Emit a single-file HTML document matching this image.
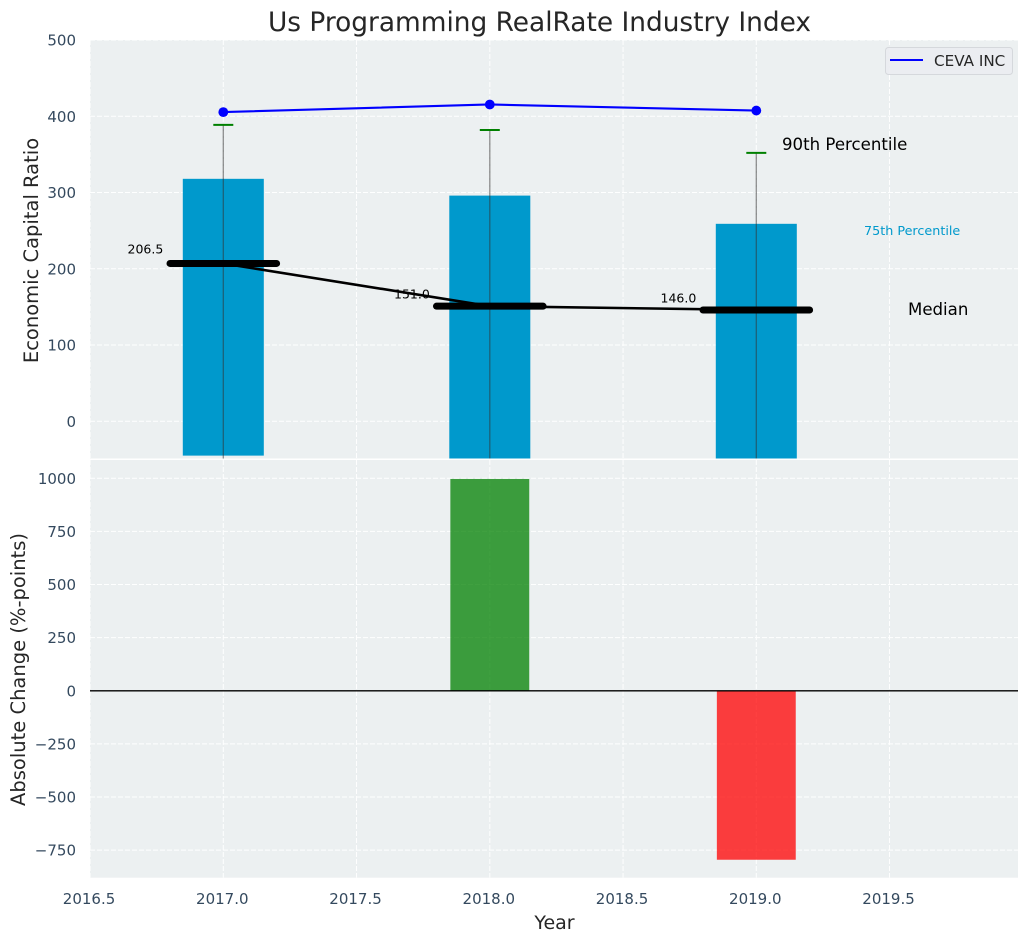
<!DOCTYPE html>
<html>
<head>
<meta charset="utf-8">
<title>Us Programming RealRate Industry Index</title>
<style>
html,body{margin:0;padding:0;background:#fff;width:1029px;height:942px;overflow:hidden}
svg{display:block}
text{font-family:"DejaVu Sans","Liberation Sans",sans-serif}
</style>
</head>
<body>
<svg id="chart" xmlns="http://www.w3.org/2000/svg" width="1029" height="942" viewBox="0 0 1029 942"></svg>
<script>
const years = [2017, 2018, 2019];
const p90 = [388.7, 382, 352];
const p75 = [318, 296, 259];
const p25 = [-45, -60, -60];
const p10 = [-60, -60, -60];
const medians = [207, 151, 146];
const medianLabels = ["206.5", "151.0", "146.0"];
const medianLabelAnchors = [220, 161, 156];
const company = [405.5, 415.5, 407.5];
const changes = [0, 997, -795];
const xTicks = [2016.5, 2017, 2017.5, 2018, 2018.5, 2019, 2019.5];
const xTickLabels = ["2016.5", "2017.0", "2017.5", "2018.0", "2018.5", "2019.0", "2019.5"];
const topTicks = [0, 100, 200, 300, 400, 500];
const bottomTicks = [-750, -500, -250, 0, 250, 500, 750, 1000];
const bottomTickLabels = ["\u2212750", "\u2212500", "\u2212250", "0", "250", "500", "750", "1000"];

const SVG = "http://www.w3.org/2000/svg";
const svg = document.getElementById("chart");
const left = 90, right = 1018;
const topPanel = {top: 40, bottom: 458.5};
const botPanel = {top: 460, bottom: 877.7};
const X = v => 223.3 + (v - 2017) * 266.5;
const Y1 = v => 421.3 - v * 0.7625;
const Y2 = v => 690.8 - v * 0.2125;
const barHalf = 0.152, medHalf = 0.2;

function mk(tag, attrs, parent, text) {
  const e = document.createElementNS(SVG, tag);
  for (const k in attrs) e.setAttribute(k, attrs[k]);
  if (text !== undefined) e.textContent = text;
  (parent || svg).appendChild(e);
  return e;
}

const defs = mk("defs", {});
const cp1 = mk("clipPath", {id: "clip-top"}, defs);
mk("rect", {x: left, y: topPanel.top, width: right - left, height: topPanel.bottom - topPanel.top}, cp1);
const cp2 = mk("clipPath", {id: "clip-bot"}, defs);
mk("rect", {x: left, y: botPanel.top, width: right - left, height: botPanel.bottom - botPanel.top}, cp2);

/* panel backgrounds */
const bg1 = mk("rect", {x: left, y: topPanel.top, width: right - left, height: topPanel.bottom - topPanel.top, fill: "#ecf0f1"});


const bg2 = mk("rect", {x: left, y: botPanel.top, width: right - left, height: botPanel.bottom - botPanel.top, fill: "#ecf0f1"});



const gridStyle = {stroke: "#fff", "stroke-width": 1, "stroke-dasharray": "5 2", fill: "none", opacity: 0.95};
const g1 = mk("g", {"clip-path": "url(#clip-top)"});


const g2 = mk("g", {"clip-path": "url(#clip-bot)"});



/* grids */
xTicks.forEach(t => {
  const a = mk("line", Object.assign({x1: X(t), x2: X(t), y1: topPanel.top, y2: topPanel.bottom}, gridStyle), g1);
  
  
  const b = mk("line", Object.assign({x1: X(t), x2: X(t), y1: botPanel.top, y2: botPanel.bottom}, gridStyle), g2);
  
  
});
topTicks.forEach(t => {
  const a = mk("line", Object.assign({x1: left, x2: right, y1: Y1(t), y2: Y1(t)}, gridStyle), g1);
  
  
});
bottomTicks.forEach(t => {
  const a = mk("line", Object.assign({x1: left, x2: right, y1: Y2(t), y2: Y2(t)}, gridStyle), g2);
  
  
});

/* percentile bars */
years.forEach((yr, i) => {
  const b = mk("rect", {x: X(yr - barHalf), width: X(yr + barHalf) - X(yr - barHalf), y: Y1(p75[i]), height: Y1(p25[i]) - Y1(p75[i]), fill: "#0099cc"}, g1);
  
  
});

/* whiskers */
years.forEach((yr, i) => {
  const w = mk("line", {x1: X(yr), x2: X(yr), y1: Y1(p90[i]), y2: Y1(p10[i]), stroke: "#333", "stroke-opacity": 0.55, "stroke-width": 1.3}, g1);
  
  
  const c = mk("line", {x1: X(yr) - 10, x2: X(yr) + 10, y1: Y1(p90[i]), y2: Y1(p90[i]), stroke: "#008000", "stroke-width": 2}, g1);
  
  
});

/* median trend line */
const medTrend = mk("polyline", {points: years.map((yr, i) => X(yr) + "," + Y1(medians[i])).join(" "), fill: "none", stroke: "#000", "stroke-width": 2.6}, g1);



/* median bars */
years.forEach((yr, i) => {
  const m = mk("line", {x1: X(yr - medHalf), x2: X(yr + medHalf), y1: Y1(medians[i]), y2: Y1(medians[i]), stroke: "#000", "stroke-width": 7, "stroke-linecap": "round"}, g1);
  
  
  const t = mk("text", {x: X(yr) - 60, y: Y1(medianLabelAnchors[i]), "font-size": 12.5, fill: "#000", "text-anchor": "end"}, g1, medianLabels[i]);
  
  
});

/* company line */
const ceva = mk("polyline", {points: years.map((yr, i) => X(yr) + "," + Y1(company[i])).join(" "), fill: "none", stroke: "#0000ff", "stroke-width": 2.1}, g1);


years.forEach((yr, i) => {
  const p = mk("circle", {cx: X(yr), cy: Y1(company[i]), r: 4.9, fill: "#0000ff"}, g1);
  
  
});

/* annotations */
const a90 = mk("text", {x: 782, y: 150, "font-size": 16.6, fill: "#000"}, svg, "90th Percentile");


const a75 = mk("text", {x: 864, y: 235, "font-size": 12.75, fill: "#0099cc"}, svg, "75th Percentile");


const aMed = mk("text", {x: 908, y: 315, "font-size": 16.6, fill: "#000"}, svg, "Median");



/* change bars */
years.forEach((yr, i) => {
  if (changes[i] === 0) return;
  const y0 = Y2(Math.max(changes[i], 0)), y1 = Y2(Math.min(changes[i], 0));
  const b = mk("rect", {x: X(yr - 0.148), width: X(yr + 0.148) - X(yr - 0.148), y: y0, height: y1 - y0, fill: changes[i] > 0 ? "#008000" : "#ff0000", "fill-opacity": 0.75}, g2);
  
  
});
const zero = mk("line", {x1: left, x2: right, y1: Y2(0), y2: Y2(0), stroke: "#000", "stroke-width": 1.3}, g2);



/* tick labels */
const tickColor = "#34495e", tickSize = 15;
topTicks.forEach(t => {
  const l = mk("text", {x: 76, y: Y1(t) + 5.5, "font-size": tickSize, fill: tickColor, "text-anchor": "end"}, svg, String(t));
  
  
});
bottomTicks.forEach((t, i) => {
  const l = mk("text", {x: 76, y: Y2(t) + 5.5, "font-size": tickSize, fill: tickColor, "text-anchor": "end"}, svg, bottomTickLabels[i]);
  
  
});
xTicks.forEach((t, i) => {
  const l = mk("text", {x: X(t) - 1, y: 904, "font-size": tickSize, fill: tickColor, "text-anchor": "middle"}, svg, xTickLabels[i]);
  
  
});

/* titles */
const title = mk("text", {x: 539.5, y: 31, "font-size": 26.4, fill: "#262626", "text-anchor": "middle"}, svg, "Us Programming RealRate Industry Index");


const xt = mk("text", {x: 554.5, y: 929, "font-size": 19, fill: "#262626", "text-anchor": "middle"}, svg, "Year");


const yt1 = mk("text", {transform: "translate(38,250.5) rotate(-90)", "font-size": 19.5, fill: "#262626", "text-anchor": "middle"}, svg, "Economic Capital Ratio");


const yt2 = mk("text", {transform: "translate(25,669.5) rotate(-90)", "font-size": 19.5, fill: "#262626", "text-anchor": "middle"}, svg, "Absolute Change (%-points)");



/* legend */
const lg = mk("g", {});


const lb = mk("rect", {x: 885.5, y: 47.5, width: 127, height: 27, rx: 3, fill: "#ebecf1", "fill-opacity": 0.9, stroke: "#d5d8dc", "stroke-width": 1}, lg);


const ll = mk("line", {x1: 890, x2: 923, y1: 60, y2: 60, stroke: "#0000ff", "stroke-width": 2}, lg);


const lt = mk("text", {x: 934, y: 66, "font-size": 15.2, fill: "#262626"}, lg, "CEVA INC");


</script>
</body>
</html>
